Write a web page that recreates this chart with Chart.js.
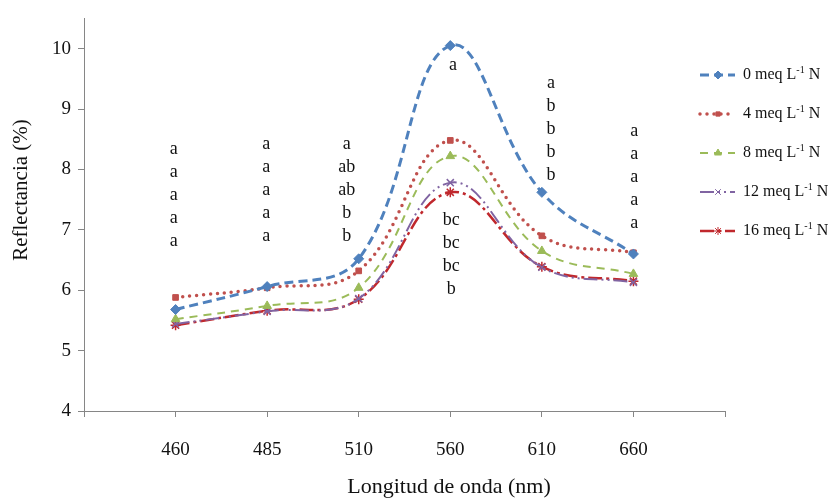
<!DOCTYPE html>
<html>
<head>
<meta charset="utf-8">
<script src="https://cdn.jsdelivr.net/npm/chart.js@4/dist/chart.umd.min.js"></script>
<style>
  html, body { margin: 0; padding: 0; background: #fff; }
  #wrap { width: 834px; height: 501px; position: relative; }
</style>
</head>
<body>
<div id="wrap"><canvas id="chart"></canvas></div>
<script>
// ======= Data =======
const wavelengths = ["460", "485", "510", "560", "610", "660"];
const doses       = ["0", "4", "8", "12", "16"];   // meq L-1 N

const n0  = [5.68, 6.06, 6.52, 10.05, 7.62, 6.60];
const n4  = [5.88, 6.04, 6.32, 8.48, 6.90, 6.62];
const n8  = [5.52, 5.74, 6.04, 8.22, 6.65, 6.27];
const n12 = [5.44, 5.65, 5.86, 7.78, 6.38, 6.13];
const n16 = [5.42, 5.66, 5.85, 7.62, 6.39, 6.15];

// letters of the mean comparison test (column position, top value, letters)
const letterPos  = [0.98, 1.99, 2.87, 4.03, 4.01, 5.1, 6.01];
const letterTop  = [8.33, 8.42, 8.42, 9.73, 7.15, 9.42, 8.63];
const letterSets = [
  ["a", "a", "a", "a", "a"],
  ["a", "a", "a", "a", "a"],
  ["a", "ab", "ab", "b", "b"],
  ["a"],
  ["bc", "bc", "bc", "b"],
  ["a", "b", "b", "b", "b"],
  ["a", "a", "a", "a", "a"]
];

const yTitle = "Reflectancia (%)";
const xTitle = "Longitud de onda (nm)";

// ======= Helpers =======
const toPoints = (arr) => arr.map((v, i) => ({ x: i + 1, y: v }));
const SERIF = "'Liberation Serif', 'Times New Roman', serif";
const AXIS = "#868686";

const series = [
  { data: n0,  color: "#4F81BD", width: 3,   dash: [9, 5],  cap: "butt",  pt: "rectRot",  r: 5 },
  { data: n4,  color: "#C0504D", width: 3.5, dash: [0, 7],  cap: "round", pt: "rect",     r: 4 },
  { data: n8,  color: "#9BBB59", width: 2,   dash: [8, 6],  cap: "butt",  pt: "triangle", r: 5 },
  { data: n12, color: "#8064A2", width: 2,   dash: [14, 4, 2, 4, 2, 4], cap: "butt", pt: "crossRot", r: 5 },
  { data: n16, color: "#C0282D", width: 2.5, dash: [14, 4, 3, 4], cap: "butt", pt: "star", r: 5 }
];

const datasets = series.map((s, i) => ({
  label: doses[i] + " meq L-1 N",
  data: toPoints(s.data),
  borderColor: s.color,
  backgroundColor: s.color,
  borderWidth: s.width,
  borderDash: s.dash,
  borderCapStyle: s.cap,
  tension: 0.4,
  pointStyle: s.pt,
  pointRadius: s.r,
  pointBorderWidth: (s.pt === "crossRot" || s.pt === "star") ? 1.5 : 1,
  clip: false
}));

// ======= Plugins =======
const extras = {
  id: "extras",
  afterDraw(chart) {
    const ctx = chart.ctx;
    const xs = chart.scales.x, ys = chart.scales.y;
    ctx.save();
    ctx.fillStyle = "#111";

    // significance letters
    ctx.font = "18px " + SERIF;
    ctx.textAlign = "center";
    ctx.textBaseline = "middle";
    letterSets.forEach((set, g) => {
      const px = xs.getPixelForValue(letterPos[g]);
      const py = ys.getPixelForValue(letterTop[g]);
      set.forEach((t, k) => ctx.fillText(t, px, py + k * 23));
    });

    // axis titles
    ctx.font = "22px " + SERIF;
    ctx.fillText(xTitle, 449, 487);
    ctx.save();
    ctx.translate(21, 190);
    ctx.rotate(-Math.PI / 2);
    ctx.font = "21px " + SERIF;
    ctx.fillText(yTitle, 0, 0);
    ctx.restore();

    // legend
    chart.data.datasets.forEach((ds, i) => {
      const y = 75 + i * 39;
      ctx.save();
      ctx.strokeStyle = ds.borderColor;
      ctx.lineWidth = ds.borderWidth;
      ctx.lineCap = ds.borderCapStyle;
      ctx.setLineDash(ds.borderDash);
      ctx.beginPath();
      ctx.moveTo(700, y);
      ctx.lineTo(735, y);
      ctx.stroke();
      ctx.restore();
      ctx.fillStyle = ds.borderColor;
      ctx.strokeStyle = ds.borderColor;
      Chart.helpers.drawPoint(ctx, {
        pointStyle: ds.pointStyle, radius: ds.pointRadius - 1, rotation: 0,
        borderWidth: ds.pointBorderWidth
      }, 718, y);

      ctx.fillStyle = "#111";
      ctx.textAlign = "left";
      ctx.textBaseline = "middle";
      let tx = 743;
      ctx.font = "16px " + SERIF;
      const a = doses[i] + " meq L";
      ctx.fillText(a, tx, y);
      tx += ctx.measureText(a).width;
      ctx.font = "10px " + SERIF;
      ctx.fillText("-1", tx, y - 5);
      tx += ctx.measureText("-1").width;
      ctx.font = "16px " + SERIF;
      ctx.fillText(" N", tx, y);
    });
    ctx.restore();
  }
};

// ======= Chart =======
new Chart(document.getElementById("chart"), {
  type: "line",
  data: { datasets },
  options: {
    responsive: true,
    maintainAspectRatio: false,
    animation: false,
    layout: { padding: { top: 7, right: 109, left: 0, bottom: 0 } },
    plugins: { legend: { display: false }, tooltip: { enabled: false } },
    scales: {
      x: {
        type: "linear",
        min: 0, max: 7,
        afterFit: (s) => { s.height = 90; },
        grid: { drawOnChartArea: false, drawTicks: true, tickLength: 6, color: AXIS },
        border: { display: true, color: AXIS },
        ticks: {
          stepSize: 1,
          padding: 22,
          color: "#111",
          font: { family: SERIF, size: 19 },
          maxRotation: 0,
          callback: (v) => (v >= 1 && v <= wavelengths.length) ? wavelengths[v - 1] : ""
        }
      },
      y: {
        min: 4, max: 10.5,
        afterFit: (s) => { s.width = 84; },
        afterBuildTicks: (s) => { s.ticks = s.ticks.filter(t => Number.isInteger(t.value)); },
        grid: { drawOnChartArea: false, drawTicks: true, tickLength: 6, color: AXIS },
        border: { display: true, color: AXIS },
        ticks: {
          stepSize: 1,
          padding: 7,
          color: "#111",
          font: { family: SERIF, size: 19 }
        }
      }
    }
  },
  plugins: [extras]
});
</script>
</body>
</html>
